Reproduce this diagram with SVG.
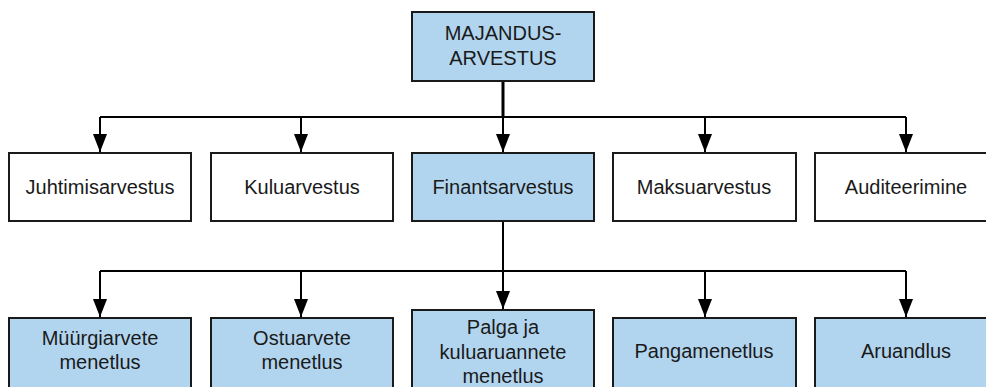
<svg xmlns="http://www.w3.org/2000/svg" width="986" height="387" viewBox="0 0 986 387">
  <style>
    .box { stroke: #1a1a1a; stroke-width: 2; }
    .blue { fill: #b2d5ef; }
    .white { fill: #ffffff; }
    .lbl { font-family: "Liberation Sans", Arial, sans-serif; font-size: 20px; fill: #1a1a1a; text-anchor: middle; dominant-baseline: central; }
    .wire { fill: none; stroke: #000; stroke-width: 2; }
  </style>
  <defs>
    <marker id="arrow" markerUnits="userSpaceOnUse" markerWidth="18" markerHeight="14" refX="18" refY="7" orient="auto" viewBox="0 0 18 14">
      <path d="M0,0 L18,7 L0,14 Z" fill="#000"/>
    </marker>
  </defs>
  <rect width="986" height="387" fill="#ffffff"/>

  <g id="connectors">
    <line x1="503" y1="81" x2="503" y2="118" stroke="#000" stroke-width="3"/>
    <path class="wire" d="M100,117 L906,117"/>
    <path class="wire" d="M100,117 L100,152" marker-end="url(#arrow)"/>
    <path class="wire" d="M301,117 L301,152" marker-end="url(#arrow)"/>
    <path class="wire" d="M503,117 L503,152" marker-end="url(#arrow)"/>
    <path class="wire" d="M705,117 L705,152" marker-end="url(#arrow)"/>
    <path class="wire" d="M906,117 L906,152" marker-end="url(#arrow)"/>
    <path class="wire" d="M503,221 L503,271"/>
    <path class="wire" d="M100,271 L906,271"/>
    <path class="wire" d="M100,271 L100,317" marker-end="url(#arrow)"/>
    <path class="wire" d="M301,271 L301,317" marker-end="url(#arrow)"/>
    <path class="wire" d="M503,271 L503,309" marker-end="url(#arrow)"/>
    <path class="wire" d="M705,271 L705,317" marker-end="url(#arrow)"/>
    <path class="wire" d="M906,271 L906,317" marker-end="url(#arrow)"/>
  </g>

  <g id="majandusarvestus">
    <rect class="box blue" x="412" y="12" width="182" height="69"/>
    <text class="lbl" x="503" y="33">MAJANDUS-</text>
    <text class="lbl" x="503" y="58">ARVESTUS</text>
  </g>

  <g id="juhtimisarvestus">
    <rect class="box white" x="9" y="153" width="182" height="68"/>
    <text class="lbl" x="100" y="187">Juhtimisarvestus</text>
  </g>
  <g id="kuluarvestus">
    <rect class="box white" x="211" y="153" width="182" height="68"/>
    <text class="lbl" x="302" y="187">Kuluarvestus</text>
  </g>
  <g id="finantsarvestus">
    <rect class="box blue" x="412" y="153" width="182" height="68"/>
    <text class="lbl" x="503" y="187">Finantsarvestus</text>
  </g>
  <g id="maksuarvestus">
    <rect class="box white" x="613" y="153" width="183" height="68"/>
    <text class="lbl" x="704" y="187">Maksuarvestus</text>
  </g>
  <g id="auditeerimine">
    <rect class="box white" x="815" y="153" width="182" height="68"/>
    <text class="lbl" x="906" y="187">Auditeerimine</text>
  </g>

  <g id="myygiarvete-menetlus">
    <rect class="box blue" x="9" y="318" width="182" height="70"/>
    <text class="lbl" x="100" y="338">Müürgiarvete</text>
    <text class="lbl" x="100" y="362">menetlus</text>
  </g>
  <g id="ostuarvete-menetlus">
    <rect class="box blue" x="211" y="318" width="182" height="70"/>
    <text class="lbl" x="302" y="338">Ostuarvete</text>
    <text class="lbl" x="302" y="362">menetlus</text>
  </g>
  <g id="palga-menetlus">
    <rect class="box blue" x="412" y="310" width="182" height="80"/>
    <text class="lbl" x="503" y="327">Palga ja</text>
    <text class="lbl" x="503" y="352">kuluaruannete</text>
    <text class="lbl" x="503" y="376">menetlus</text>
  </g>
  <g id="pangamenetlus">
    <rect class="box blue" x="613" y="318" width="183" height="70"/>
    <text class="lbl" x="704" y="351">Pangamenetlus</text>
  </g>
  <g id="aruandlus">
    <rect class="box blue" x="815" y="318" width="182" height="70"/>
    <text class="lbl" x="906" y="351">Aruandlus</text>
  </g>
</svg>
